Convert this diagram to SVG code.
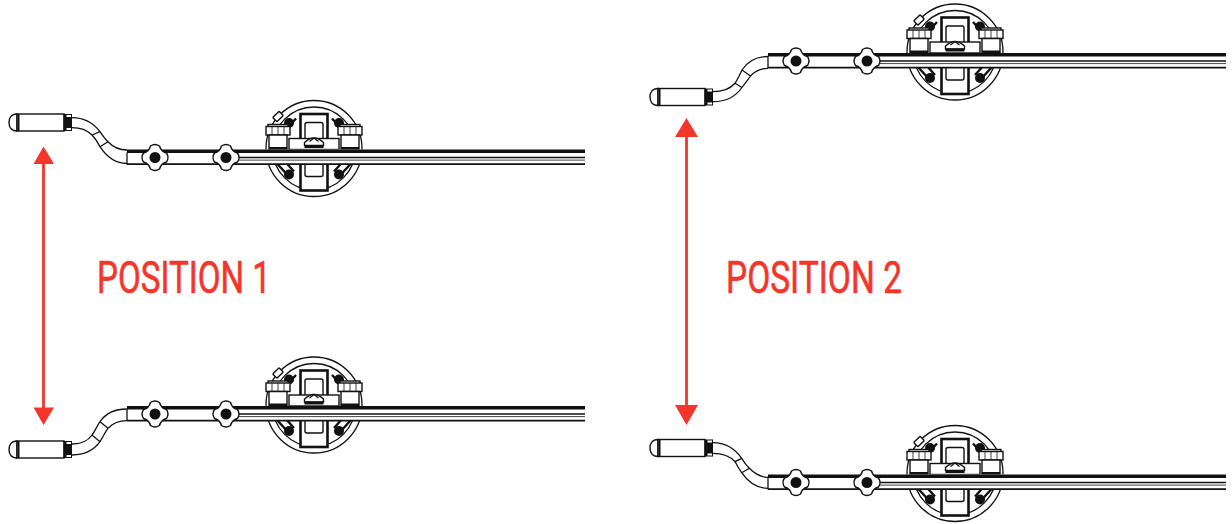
<svg xmlns="http://www.w3.org/2000/svg" xmlns:xlink="http://www.w3.org/1999/xlink" width="1232" height="524" viewBox="0 0 1232 524">
<style>
.l{fill:none;stroke:#111;stroke-width:1.3}
.m{fill:#fff;stroke:#111;stroke-width:1.4}
.t{fill:#fff;stroke:#111;stroke-width:2.6}
.k{fill:#111}
.w{fill:#fff}
.s{fill:none;stroke:#111;stroke-width:2.4}
.r{fill:none;stroke:#111;stroke-width:1.7}
.f{fill:none;stroke:#111;stroke-width:.8}
.a{stroke:#f4352a;stroke-width:2.8;fill:none}
.h{fill:#f4352a}
.x{font-family:"Roboto","Liberation Sans",sans-serif;font-size:44px;fill:#f4352a;stroke:#f4352a;stroke-width:.6}
</style>
<defs>
<g id="knob">
<path class="m" d="M-4.500-11.500Q0-14.500 4.500-11.500Q6-6 11.500-4.500Q14.500 0 11.500 4.500Q6 6 4.500 11.500Q0 14.500-4.500 11.500Q-6 6-11.500 4.500Q-14.500 0-11.500-4.500Q-6-6-4.500-11.500Z"/>
<circle class="k" r="5.500"/>
</g>
<g id="handle">
<path class="m" d="M17-8.500C11-8.500 9-4 9 0C9 4 11 8.500 17 8.500Z"/>
<rect class="m" x="17" y="-8.500" width="47" height="17"/>
<rect class="k" x="17.500" y="-8.500" width="2" height="17"/>
<rect class="k" x="63.500" y="-8.500" width="8.500" height="17"/>
<rect class="w" x="66.500" y="-7.500" width="4.500" height="2"/><rect class="w" x="66.500" y="5.500" width="4.500" height="2"/>
</g>
<g id="nut">
<rect class="m" x="-22" y="-25" width="20" height="3"/>
<rect class="m" x="-24" y="-23" width="24" height="8.500"/>
<path class="f" d="M-18-23V-14.500M-12-23V-14.500M-6-23V-14.500"/>
<path class="m" d="M-21-14.500H-3V0H-21Z"/>
<rect class="k" x="-21" y="-2.500" width="18" height="2.500"/>
</g>
<g id="assembly">
<circle class="l" cx="314" cy="-1" r="48"/>
<circle class="l" cx="314" cy="-1" r="41.500"/>
<g transform="translate(278,-33) rotate(-45)"><rect class="m" x="-4.500" y="-3" width="9" height="6" rx="1"/></g>
<path class="s" d="M285-19L296-31M343-19L332-31M277 14L288 26M285 12L294 22M351 14L340 26M343 12L334 22"/>
<circle class="k" cx="289" cy="-26.500" r="5"/><circle class="k" cx="339" cy="-26.500" r="5"/>
<circle class="k" cx="289" cy="25" r="5"/><circle class="k" cx="339" cy="25" r="5"/>
<rect class="t" x="300.500" y="-35.500" width="27" height="35.500"/>
<rect class="m" x="305" y="-27" width="18" height="20" rx="2"/>
<rect class="m" x="289" y="-11" width="50" height="11"/>
<path class="m" d="M304.500-4V-7Q314-16 323.500-7V-4Z"/>
<path class="l" d="M309.500-8L314-11.500L318.500-8"/>
<rect class="k" x="304.500" y="-4.500" width="19" height="3"/>
<use xlink:href="#nut" href="#nut" x="290" y="0"/>
<use xlink:href="#nut" href="#nut" x="362" y="0"/>
<rect class="t" x="300.500" y="10" width="27" height="31"/>
<path class="m" d="M305 10V25Q305 27 307 27H321Q323 27 323 25V10"/>
<rect class="w" x="127" y="0" width="458" height="14.800"/>
<rect class="k" x="127" y="0" width="458" height="3.500"/>
<line class="r" x1="127" y1="14.600" x2="585" y2="14.600"/>
<line class="r" x1="236" y1="8" x2="585" y2="8"/>
<line class="f" x1="236" y1="10.600" x2="585" y2="10.600"/>
<line class="l" x1="127" y1="3" x2="127" y2="15"/>
<use xlink:href="#knob" href="#knob" x="155" y="8"/>
<use xlink:href="#knob" href="#knob" x="226" y="8"/>
</g>
</defs>

<g id="position-1-top">
<use xlink:href="#assembly" href="#assembly" x="0" y="149.500"/>
<use xlink:href="#handle" href="#handle" x="0" y="122.500"/>
<path class="l" d="M72 117.700C85 117.700 94 124 100 131.700C103 136 105 139 108 141.700C113 147 119 150 127 150M72 127.700C82 127.700 88 131 92 135C96 139 98 143 100 146.700C106 156 115 163.500 127 163.500M92 135L100 131.700M100 146.700L108 141.700"/>
</g>
<g id="position-1-bottom">
<use xlink:href="#assembly" href="#assembly" x="0" y="406"/>
<use xlink:href="#handle" href="#handle" x="0" y="449.500"/>
<path class="l" d="M72 444C82 444 88 441 92 435C95 431 97 426 100 421.700C106 413 115 409 127 409M72 455C85 455 94 450 100 441.700C103 437 105 432 108 428.300C113 423 119 420.700 127 420.700M92 435L100 441.700M100 421.700L108 428.300"/>
</g>
<g id="position-2-top">
<use xlink:href="#assembly" href="#assembly" x="641" y="53"/>
<use xlink:href="#handle" href="#handle" x="641" y="97"/>
<path class="l" d="M713 91.700C722 91.700 730 89 735 83.300C738 79 740 74 742 70C748 61 757 56.500 768 56.500M713 101.700C726 101.700 736 96 742 87.500C745 83 748 80 750.500 76C755 71 761 68.300 768 68.300M735 83.300L742 87.500M742 70L750.500 76"/>
</g>
<g id="position-2-bottom">
<use xlink:href="#assembly" href="#assembly" x="641" y="474.500"/>
<use xlink:href="#handle" href="#handle" x="641" y="448"/>
<path class="l" d="M713 442.700C725 442.700 735 449 741.700 458.300C744 462 746 465 749.300 468.300C755 474 761 477.300 768 477.300M713 453.300C722 453.300 730 456 735 461.700C737 465 739 469 741.700 472.700C748 482 757 488.300 768 488.300M735 461.700L741.700 458.300M741.700 472.700L749.300 468.300"/>
</g>

<g id="connectors">
<line class="a" x1="43.500" y1="160" x2="43.500" y2="411"/>
<polygon class="h" points="43.500,146.500 54,164 33.500,164"/>
<polygon class="h" points="43.500,425 54,407.500 33.500,407.500"/>
<line class="a" x1="686.500" y1="132" x2="686.500" y2="410"/>
<polygon class="h" points="686.500,118 698,137 675,137"/>
<polygon class="h" points="686.500,425 698,405 675,405"/>
</g>
<g id="labels">
<text class="x" x="97" y="293" textLength="174" lengthAdjust="spacingAndGlyphs">POSITION 1</text>
<text class="x" x="726" y="293" textLength="176" lengthAdjust="spacingAndGlyphs">POSITION 2</text>
</g>
</svg>
